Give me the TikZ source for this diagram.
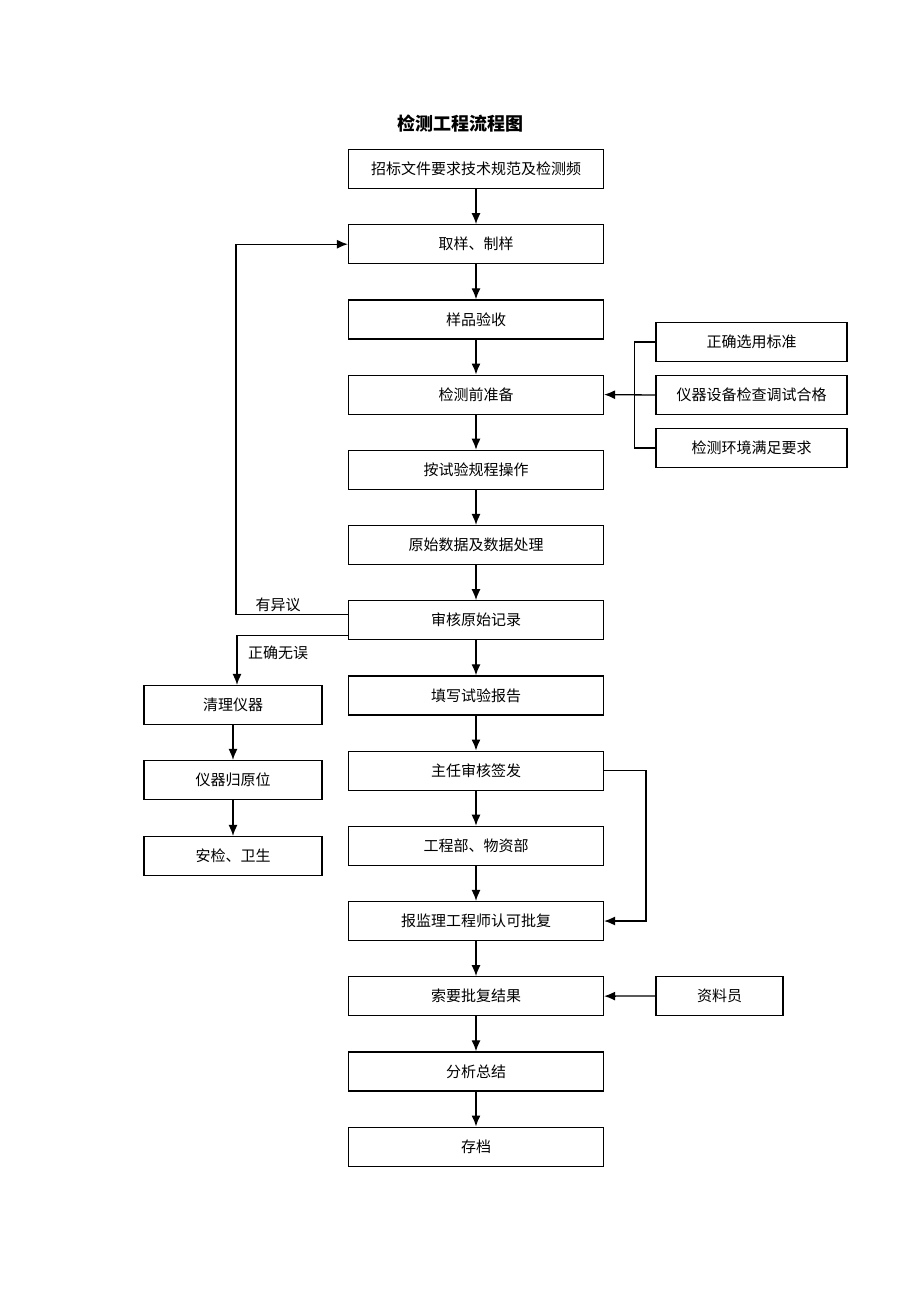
\documentclass[tikz,border=0pt]{standalone}
\usepackage{fontspec}
\setmainfont{Noto Sans CJK SC}
\usetikzlibrary{arrows.meta}
\tikzset{
    paso/.style={draw,line width=1.2pt,minimum width=255pt,minimum height=39pt,inner sep=0pt,font=\fontsize{15}{15}\selectfont},
    lado/.style={paso,minimum width=191pt},
    flecha/.style={line width=1.3pt,-{Latex[length=11pt,width=9pt]}},
    linea/.style={line width=1.3pt},
    etiqueta/.style={inner sep=0pt,font=\fontsize{15}{15}\selectfont}
}
\begin{document}
\begin{tikzpicture}[x=1pt,y=-1pt]
\useasboundingbox (0,0) rectangle (920,1302);
    %Titulo
    \node[font=\bfseries\fontsize{18}{18}\selectfont] (titulo) at (460,124) {检测工程流程图};

    %Columna principal
    \foreach \t [count=\i] in {招标文件要求技术规范及检测频,取样、制样,样品验收,检测前准备,按试验规程操作,原始数据及数据处理,审核原始记录,填写试验报告,主任审核签发,工程部、物资部,报监理工程师认可批复,索要批复结果,分析总结,存档}{
        \node[paso] (p\i) at (476,{169+75.2*(\i-1)}) {\t};
    }
    \foreach \i [evaluate=\i as \j using int(\i+1)] in {1,...,13}{
        \draw[flecha] (p\i) -- (p\j);
    }

    %Condiciones a la derecha
    \node[lado] (r1) at (751.5,342) {正确选用标准};
    \node[lado] (r2) at (751.5,395) {仪器设备检查调试合格};
    \node[lado] (r3) at (751.5,448) {检测环境满足要求};
    \draw[linea] (r1.west) -- ++(-21,0) |- (r3.west);
    \draw[flecha] (r2.west) -- (p4.east);

    %Rama izquierda
    \node[paso,minimum width=178pt] (l1) at (233,705) {清理仪器};
    \node[paso,minimum width=178pt] (l2) at (233,780) {仪器归原位};
    \node[paso,minimum width=178pt] (l3) at (233,856) {安检、卫生};
    \draw[flecha] (l1) -- (l2);
    \draw[flecha] (l2) -- (l3);

    \draw[flecha] ([yshift=6pt]p7.west) -- ++(-112,0) |- (p2.west);
    \node[etiqueta] (e1) at (278,605) {有异议};
    \draw[flecha] ([yshift=-15pt]p7.west) -| ([xshift=4pt]l1.north);
    \node[etiqueta] (e2) at (278,653) {正确无误};

    %Lazo derecho
    \draw[flecha] (p9.east) -- ++(42,0) |- (p11.east);

    \node[paso,minimum width=127pt] (z) at (719.5,996) {资料员};
    \draw[flecha] (z) -- (p12);
\end{tikzpicture}
\end{document}
